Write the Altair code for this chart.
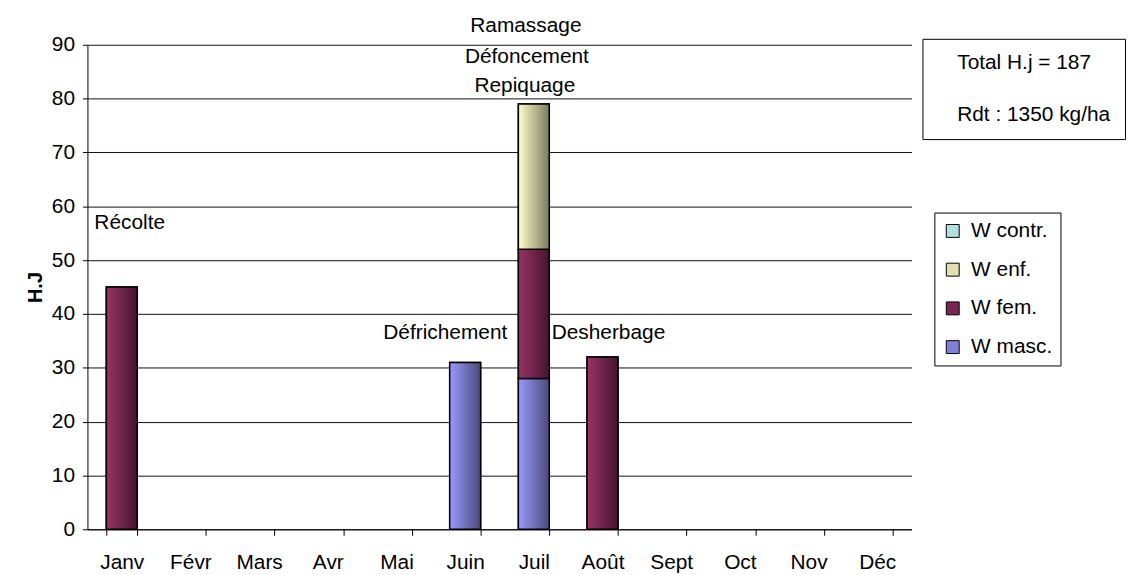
import altair as alt
import pandas as pd

months = ["Janv", "Févr", "Mars", "Avr", "Mai", "Juin", "Juil", "Août", "Sept", "Oct", "Nov", "Déc"]
series = ["W masc.", "W fem.", "W enf.", "W contr."]
w_masc = [0, 0, 0, 0, 0, 31, 28, 0, 0, 0, 0, 0]
w_fem = [45, 0, 0, 0, 0, 0, 24, 32, 0, 0, 0, 0]
w_enf = [0, 0, 0, 0, 0, 0, 27, 0, 0, 0, 0, 0]
w_contr = [0, 0, 0, 0, 0, 0, 0, 0, 0, 0, 0, 0]

ann_text = ["Récolte", "Défrichement", "Desherbage", "Repiquage", "Défoncement", "Ramassage"]
ann_month = ["Janv", "Juin", "Août", "Juil", "Juil", "Juil"]
ann_y = [56.8, 36.5, 36.5, 82.3, 87.8, 93.4]
ann_dx = [8, -20, 6, -9, -7, -8]

info_text = ["Total H.j = 187", "Rdt : 1350 kg/ha"]

light = ["#9999FF", "#993366", "#FFFFCC", "#CCFFFF"]
dark = ["#4A4A7C", "#45152D", "#7A7A60", "#627A7A"]
mid = ["#8080D8", "#7A2650", "#E0E0B0", "#B0E0E0"]

FONT = "Liberation Sans"
FS = 21

rows = []
for i, (s, vals) in enumerate(zip(series, [w_masc, w_fem, w_enf, w_contr])):
    for m, v in zip(months, vals):
        rows.append({"month": m, "series": s, "value": v, "order": i})
df = pd.DataFrame(rows)

ann = pd.DataFrame({"text": ann_text, "month": ann_month, "y": ann_y, "dx": ann_dx})
info = pd.DataFrame({"info": info_text})

xenc = alt.X(
    "month:N",
    scale=alt.Scale(domain=months, paddingInner=0.55, paddingOuter=0.275),
    axis=alt.Axis(
        title=None, labelAngle=0, tickBand="extent", labelFont=FONT, labelFontSize=FS,
        labelColor="black", domainColor="black", tickColor="black", tickSize=6,
        labelPadding=16, grid=False,
    ),
)
yscale = alt.Scale(domain=[0, 90], nice=False)
yaxis = alt.Axis(
    title="H.J", titleFont=FONT, titleFontSize=20, titleFontWeight="bold", titleColor="black",
    titlePadding=6, values=list(range(0, 91, 10)), labelFont=FONT, labelFontSize=FS,
    labelColor="black", labelPadding=8, tickSize=5, tickColor="black", domainColor="black",
    grid=True, gridColor="#111111", gridWidth=1,
)

base = (
    alt.Chart(df)
    .transform_filter("datum.value > 0")
    .transform_stack(stack="value", groupby=["month"], as_=["y0", "y1"],
                     sort=[alt.SortField("order", order="ascending")])
)

legend_layer = base.mark_bar(stroke="black", strokeWidth=1.5).encode(
    x=xenc,
    y=alt.Y("y0:Q", scale=yscale, axis=yaxis),
    y2="y1:Q",
    color=alt.Color(
        "series:N",
        scale=alt.Scale(domain=series, range=mid),
        legend=alt.Legend(
            title=None, orient="none", legendX=853, legendY=169,
            values=["W contr.", "W enf.", "W fem.", "W masc."],
            labelFont=FONT, labelFontSize=FS, labelColor="black", labelOffset=8,
            symbolType="square", symbolSize=169, symbolStrokeColor="black",
            symbolStrokeWidth=1, rowPadding=17, padding=8,
            strokeColor="black", fillColor="white",
        ),
    ),
)

layers = [legend_layer]
for s, lc, dc, vals in zip(series, light, dark, [w_masc, w_fem, w_enf, w_contr]):
    if sum(vals) == 0:
        continue
    grad = alt.LinearGradient(
        gradient="linear",
        stops=[alt.GradientStop(offset=0, color=lc), alt.GradientStop(offset=1, color=dc)],
        x1=0, x2=1, y1=0, y2=0,
    )
    layers.append(
        base.transform_filter(alt.datum.series == s)
        .mark_bar(fill=grad, stroke="black", strokeWidth=1.5)
        .encode(x=xenc, y=alt.Y("y0:Q", scale=yscale, axis=yaxis), y2="y1:Q")
    )

texts = alt.layer(*[
    alt.Chart(ann[ann["text"] == t]).mark_text(
        font=FONT, fontSize=FS, color="black", baseline="middle", dx=float(d)
    ).encode(x=alt.X("month:N"), y=alt.Y("y:Q"), text="text:N")
    for t, d in zip(ann_text, ann_dx)
])

info_layer = alt.Chart(info).mark_point(opacity=0).encode(
    shape=alt.Shape(
        "info:N",
        scale=alt.Scale(domain=info_text),
        legend=alt.Legend(
            title=None, orient="none", legendX=841, legendY=-6,
            labelFont=FONT, labelFontSize=FS, labelColor="black", labelOffset=0,
            symbolSize=1, symbolOpacity=0, symbolStrokeWidth=0,
            rowPadding=30, padding=14, strokeColor="black", fillColor="white",
        ),
    )
)

chart = (
    alt.layer(*layers, texts, info_layer)
    .properties(
        width=830, height=488, autosize=alt.AutoSizeParams(type="none"),
        padding={"left": 80, "top": 35, "right": 217, "bottom": 44},
        background="white",
    )
    .configure_view(stroke=None)
)

chart.save("out.html", embed_options={"renderer": "svg", "actions": False})
